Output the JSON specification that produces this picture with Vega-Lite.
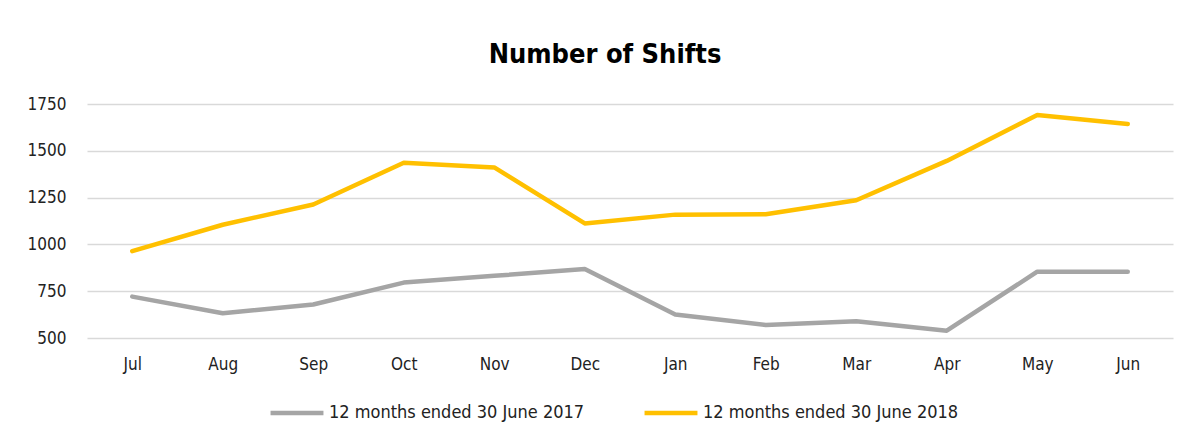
{
  "$schema": "https://vega.github.io/schema/vega-lite/v6.json",
  "width": 1086,
  "height": 234,
  "autosize": {"type": "none"},
  "padding": {"left": 87, "top": 104, "right": 18, "bottom": 101},
  "background": "white",
  "title": {
    "text": "Number of Shifts",
    "fontSize": 27,
    "font": "Liberation Sans Narrow, Arial Narrow, DejaVu Sans Condensed, Liberation Sans, sans-serif",
    "fontWeight": "bold",
    "color": "#000000",
    "anchor": "middle",
    "frame": "group",
    "dx": -25,
    "offset": 26
  },
  "data": {
    "values": [
      {"month": "Jul", "series": "12 months ended 30 June 2017", "value": 721},
      {"month": "Aug", "series": "12 months ended 30 June 2017", "value": 632},
      {"month": "Sep", "series": "12 months ended 30 June 2017", "value": 679},
      {"month": "Oct", "series": "12 months ended 30 June 2017", "value": 796},
      {"month": "Nov", "series": "12 months ended 30 June 2017", "value": 832},
      {"month": "Dec", "series": "12 months ended 30 June 2017", "value": 868},
      {"month": "Jan", "series": "12 months ended 30 June 2017", "value": 625},
      {"month": "Feb", "series": "12 months ended 30 June 2017", "value": 570},
      {"month": "Mar", "series": "12 months ended 30 June 2017", "value": 589},
      {"month": "Apr", "series": "12 months ended 30 June 2017", "value": 539},
      {"month": "May", "series": "12 months ended 30 June 2017", "value": 854},
      {"month": "Jun", "series": "12 months ended 30 June 2017", "value": 854},
      {"month": "Jul", "series": "12 months ended 30 June 2018", "value": 964},
      {"month": "Aug", "series": "12 months ended 30 June 2018", "value": 1105},
      {"month": "Sep", "series": "12 months ended 30 June 2018", "value": 1213},
      {"month": "Oct", "series": "12 months ended 30 June 2018", "value": 1436},
      {"month": "Nov", "series": "12 months ended 30 June 2018", "value": 1411},
      {"month": "Dec", "series": "12 months ended 30 June 2018", "value": 1112},
      {"month": "Jan", "series": "12 months ended 30 June 2018", "value": 1159},
      {"month": "Feb", "series": "12 months ended 30 June 2018", "value": 1161},
      {"month": "Mar", "series": "12 months ended 30 June 2018", "value": 1236},
      {"month": "Apr", "series": "12 months ended 30 June 2018", "value": 1446},
      {"month": "May", "series": "12 months ended 30 June 2018", "value": 1691},
      {"month": "Jun", "series": "12 months ended 30 June 2018", "value": 1643}
    ]
  },
  "mark": {"type": "line", "strokeWidth": 4.5, "strokeCap": "round", "strokeJoin": "round"},
  "encoding": {
    "x": {
      "field": "month",
      "type": "ordinal",
      "sort": ["Jul","Aug","Sep","Oct","Nov","Dec","Jan","Feb","Mar","Apr","May","Jun"],
      "scale": {"type": "point", "padding": 0.5},
      "axis": {
        "title": null,
        "labelAngle": 0,
        "domain": false,
        "ticks": false,
        "labelPadding": 18,
        "labelFontSize": 17,
        "labelColor": "#222222",
        "labelFont": "Liberation Sans Narrow, Arial Narrow, DejaVu Sans Condensed, Liberation Sans, sans-serif"
      }
    },
    "y": {
      "field": "value",
      "type": "quantitative",
      "scale": {"domain": [500, 1750], "nice": false, "zero": false},
      "axis": {
        "title": null,
        "values": [500, 750, 1000, 1250, 1500, 1750],
        "format": "d",
        "domain": false,
        "ticks": false,
        "labelPadding": 21,
        "labelFontSize": 17,
        "labelColor": "#222222",
        "labelFont": "Liberation Sans Narrow, Arial Narrow, DejaVu Sans Condensed, Liberation Sans, sans-serif",
        "gridColor": "#d9d9d9",
        "gridWidth": 1.5
      }
    },
    "color": {
      "field": "series",
      "type": "nominal",
      "scale": {"range": ["#a5a5a5", "#ffc000"]},
      "legend": {
        "title": null,
        "orient": "none",
        "direction": "horizontal",
        "legendX": 181,
        "legendY": 280,
        "symbolType": "stroke",
        "symbolSize": 2800,
        "symbolStrokeWidth": 4.5,
        "labelFontSize": 18,
        "labelColor": "#222222",
        "labelFont": "Liberation Sans Narrow, Arial Narrow, DejaVu Sans Condensed, Liberation Sans, sans-serif",
        "labelOffset": 3,
        "columnPadding": 50,
        "labelLimit": 400
      }
    }
  },
  "config": {"view": {"stroke": null}}
}
